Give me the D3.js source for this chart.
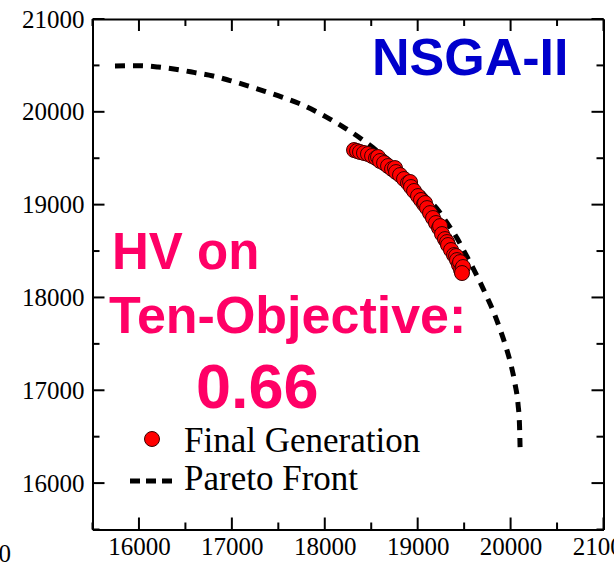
<!DOCTYPE html>
<html>
<head>
<meta charset="utf-8">
<script src="https://cdn.jsdelivr.net/npm/d3@7"></script>
<style>
  html, body { margin: 0; padding: 0; background: #fff; }
  svg { display: block; }
</style>
</head>
<body>
<svg id="chart" width="614" height="569"></svg>
<script>
// Axis ranges and tick values
const xDomain = [15500, 21000];
const yDomain = [15500, 21000];
const xTickLabels = [16000, 17000, 18000, 19000, 20000, 21000];
const yTickLabels = [16000, 17000, 18000, 19000, 20000, 21000];
const minorTicks = [15500, 16500, 17500, 18500, 19500, 20500];

// True Pareto front (objective pair projection)
const frontX = [15742, 16000, 16205, 16410, 16603, 16797, 16980, 17163, 17346, 17540,
  17712, 17895, 18056, 18218, 18379, 18530, 18702, 18864, 19004, 19111, 19219, 19316,
  19423, 19510, 19596, 19671, 19746, 19822, 19886, 19951, 20005, 20048, 20080, 20096, 20102];
const frontY = [20494, 20497, 20483, 20456, 20422, 20386, 20337, 20283, 20224, 20159,
  20095, 20009, 19922, 19825, 19718, 19605, 19470, 19330, 19179, 19060, 18942, 18802,
  18640, 18478, 18317, 18166, 18004, 17832, 17659, 17465, 17271, 17067, 16851, 16625, 16388];

// Final generation population
const genX = [18315, 18347, 18379, 18422, 18465, 18509, 18552, 18573, 18595, 18638,
  18681, 18724, 18756, 18767, 18810, 18853, 18896, 18918, 18928, 18961, 19004, 19036,
  19068, 19079, 19101, 19133, 19165, 19197, 19230, 19241, 19262, 19294, 19316, 19327,
  19359, 19391, 19413, 19423, 19445, 19456, 19467, 19488, 19477];
const genY = [19588, 19578, 19567, 19556, 19545, 19524, 19502, 19513, 19470, 19448,
  19416, 19384, 19394, 19351, 19319, 19276, 19233, 19244, 19190, 19147, 19093, 19050,
  19006, 19017, 18963, 18909, 18856, 18802, 18748, 18769, 18683, 18629, 18597, 18565,
  18511, 18457, 18446, 18403, 18349, 18381, 18295, 18328, 18263];

const svg = d3.select("#chart");
const x = d3.scaleLinear().domain(xDomain).range([92.5, 603.5]);
const y = d3.scaleLinear().domain(yDomain).range([529.5, 19]);

const serif = "'Liberation Serif', 'Times New Roman', serif";
const sans = "'Liberation Sans', Arial, sans-serif";

// Frame with inward ticks on all four sides
const fmt = d3.format("d");
const axes = [
  { ax: d3.axisBottom(x).tickValues(xTickLabels).tickFormat(fmt), t: `translate(0,${y(15500)})`, dir: -1, vert: false },
  { ax: d3.axisTop(x).tickValues(xTickLabels).tickFormat(""), t: `translate(0,${y(21000)})`, dir: 1, vert: false },
  { ax: d3.axisLeft(y).tickValues(yTickLabels).tickFormat(fmt), t: `translate(${x(15500)},0)`, dir: 1, vert: true },
  { ax: d3.axisRight(y).tickValues(yTickLabels).tickFormat(""), t: `translate(${x(21000)},0)`, dir: -1, vert: true }
];
axes.forEach(a => {
  const g = svg.append("g").attr("transform", a.t)
    .call(a.ax.tickSizeInner(0).tickSizeOuter(0).tickPadding(8));
  g.select(".domain").attr("stroke", "#000").attr("stroke-width", 2);
  g.selectAll(".tick line").remove();
  g.selectAll(".tick text")
    .attr("font-family", serif).attr("font-size", 25).attr("fill", "#000");
  // major and minor ticks drawn inward
  const scale = a.vert ? y : x;
  const major = a.vert ? yTickLabels : xTickLabels;
  const allTicks = major.map(v => ({ v, len: 12 })).concat(minorTicks.map(v => ({ v, len: 7 })));
  allTicks.forEach(tk => {
    const p = scale(tk.v);
    if (a.vert) {
      g.append("line").attr("x1", 0).attr("x2", a.dir * tk.len).attr("y1", p).attr("y2", p)
        .attr("stroke", "#000").attr("stroke-width", 2);
    } else {
      g.append("line").attr("y1", 0).attr("y2", a.dir * tk.len).attr("x1", p).attr("x2", p)
        .attr("stroke", "#000").attr("stroke-width", 2);
    }
  });
});
svg.selectAll(".tick text").filter(function () { return this.textContent === ""; }).remove();

// Label fragment at the bottom-left edge
svg.append("text").attr("x", 11).attr("y", 562).attr("text-anchor", "end")
  .attr("font-family", serif).attr("font-size", 25).text("0");

// Pareto front
const line = d3.line().x((d, i) => x(frontX[i])).y((d, i) => y(frontY[i])).curve(d3.curveMonotoneX);
svg.append("path").datum(frontX).attr("d", line)
  .attr("fill", "none").attr("stroke", "#000").attr("stroke-width", 5)
  .attr("stroke-dasharray", "10,8");

// Final generation points
svg.append("g").selectAll("circle").data(genX).join("circle")
  .attr("cx", (d, i) => x(genX[i])).attr("cy", (d, i) => y(genY[i]))
  .attr("r", 7.5).attr("fill", "#ff0000").attr("stroke", "#3a0000").attr("stroke-width", 1);

// Legend
svg.append("circle").attr("cx", 152).attr("cy", 439).attr("r", 7.5)
  .attr("fill", "#ff0000").attr("stroke", "#3a0000").attr("stroke-width", 1);
svg.append("text").attr("x", 184).attr("y", 452).attr("font-family", serif)
  .attr("font-size", 35).text("Final Generation");
svg.append("line").attr("x1", 130).attr("x2", 172).attr("y1", 481).attr("y2", 481)
  .attr("stroke", "#000").attr("stroke-width", 5).attr("stroke-dasharray", "10,6");
svg.append("text").attr("x", 184).attr("y", 490).attr("font-family", serif)
  .attr("font-size", 35).text("Pareto Front");

// Annotations
svg.append("text").attr("x", 372).attr("y", 75).attr("font-family", sans)
  .attr("font-weight", "bold").attr("font-size", 52).attr("fill", "#0000cc").text("NSGA-II");
svg.append("text").attr("x", 112).attr("y", 269).attr("font-family", sans)
  .attr("font-weight", "bold").attr("font-size", 51).attr("fill", "#ff0066").text("HV on");
svg.append("text").attr("x", 109).attr("y", 333).attr("font-family", sans)
  .attr("font-weight", "bold").attr("font-size", 52).attr("fill", "#ff0066").text("Ten-Objective:");
svg.append("text").attr("x", 196).attr("y", 408).attr("font-family", sans)
  .attr("font-weight", "bold").attr("font-size", 63).attr("fill", "#ff0066").text("0.66");
</script>
</body>
</html>
